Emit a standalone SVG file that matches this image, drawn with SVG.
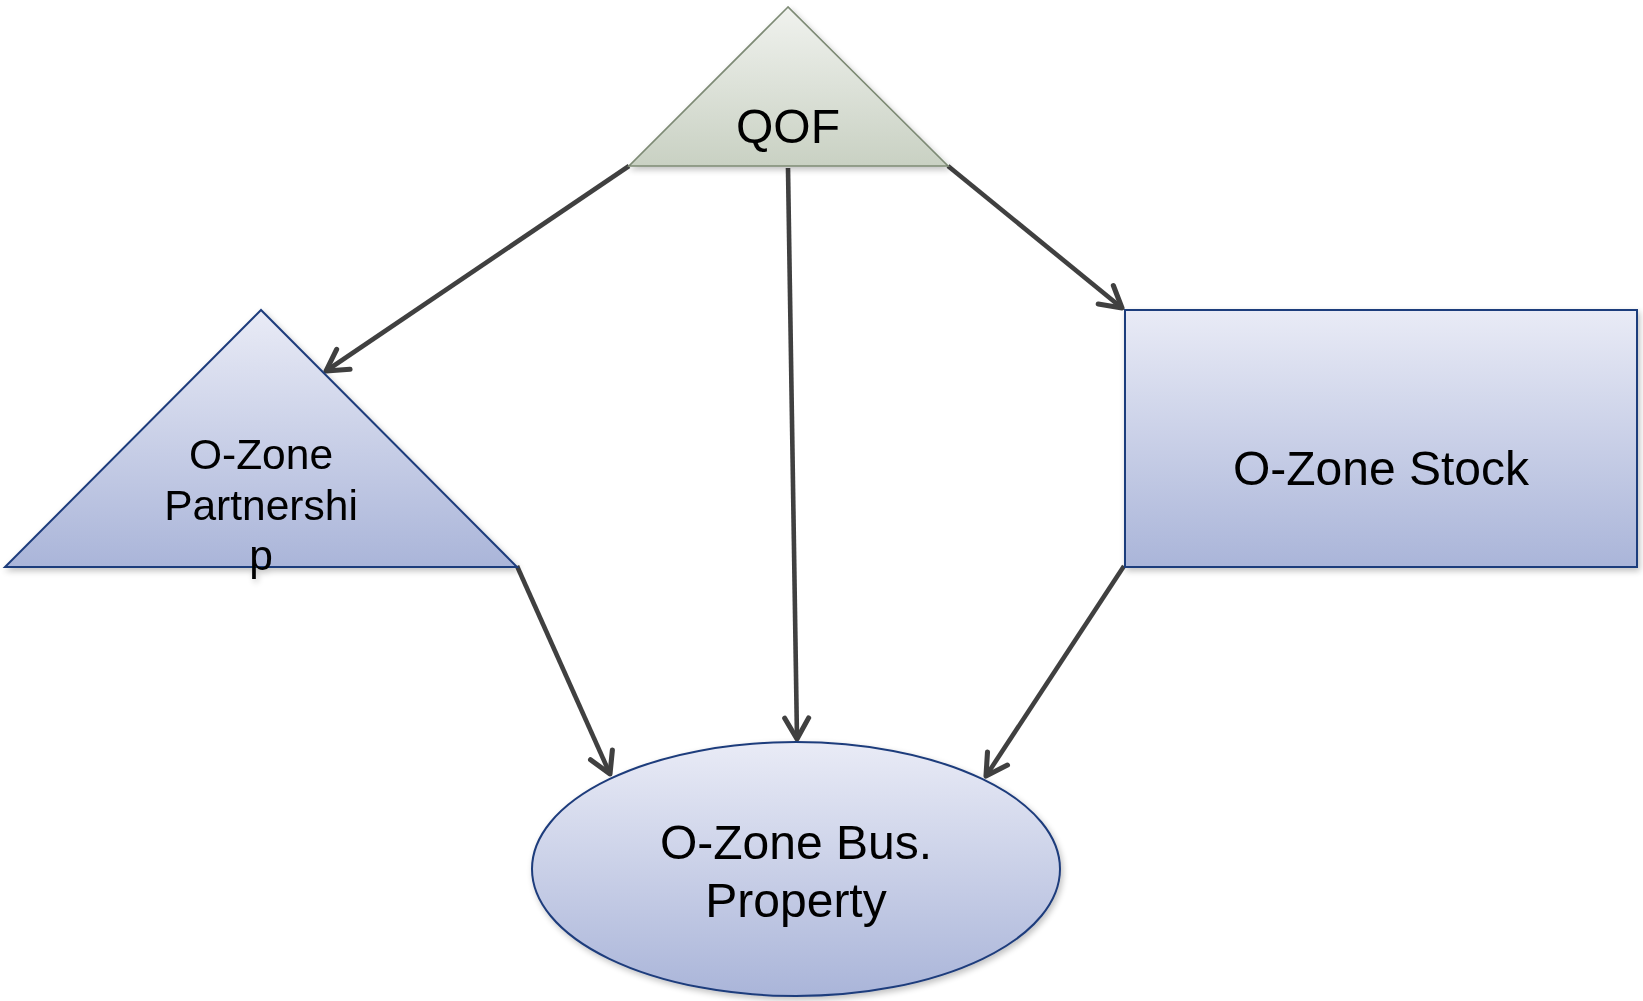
<svg xmlns="http://www.w3.org/2000/svg" width="1643" height="1001" viewBox="0 0 1643 1001">
  <defs>
    <linearGradient id="gradGreen" x1="0" y1="0" x2="0" y2="1">
      <stop offset="0" stop-color="#f0f2ee"/>
      <stop offset="1" stop-color="#c9d1c3"/>
    </linearGradient>
    <linearGradient id="gradBlue" x1="0" y1="0" x2="0" y2="1">
      <stop offset="0" stop-color="#e9ebf6"/>
      <stop offset="1" stop-color="#aab5d9"/>
    </linearGradient>
    <filter id="shadow" x="-5%" y="-5%" width="115%" height="120%">
      <feGaussianBlur in="SourceAlpha" stdDeviation="3"/>
      <feOffset dx="2" dy="3"/>
      <feComponentTransfer><feFuncA type="linear" slope="0.25"/></feComponentTransfer>
      <feMerge><feMergeNode/><feMergeNode in="SourceGraphic"/></feMerge>
    </filter>
    <marker id="arrow" viewBox="0 0 20 20" refX="18" refY="10" markerWidth="6.5" markerHeight="6.5" markerUnits="strokeWidth" orient="auto">
      <path d="M4,2 L18,10 L4,18" fill="none" stroke="#404040" stroke-width="3.4" stroke-linecap="round" stroke-linejoin="round"/>
    </marker>
    <style>
      .label { font-family: "Liberation Sans", Arial, sans-serif; fill: #000; text-anchor: middle; }
      .blue { fill: url(#gradBlue); stroke: #1f3c7c; stroke-width: 2; }
      .conn { fill: none; stroke: #404040; stroke-width: 4.6; marker-end: url(#arrow); }
    </style>
  </defs>

  <rect width="1643" height="1001" fill="#ffffff"/>

  <g id="connectors">
    <line class="conn" x1="629" y1="166" x2="326" y2="371"/>
    <line class="conn" x1="788" y1="168" x2="797" y2="739"/>
    <line class="conn" x1="948" y1="166" x2="1122" y2="308"/>
    <line class="conn" x1="517" y1="566" x2="610" y2="774"/>
    <line class="conn" x1="1124" y1="566" x2="986" y2="776"/>
  </g>

  <g id="node-qof" filter="url(#shadow)">
    <polygon points="788,7 629,166 948,166" fill="url(#gradGreen)" stroke="#7d8a74" stroke-width="1.6"/>
    <text class="label" x="788" y="143" font-size="48">QOF</text>
  </g>

  <g id="node-partnership" filter="url(#shadow)">
    <polygon class="blue" points="261,310 5,567 517,567"/>
    <text class="label" font-size="42.5"><tspan x="261" y="469">O-Zone</tspan><tspan x="261" y="520">Partnershi</tspan><tspan x="261" y="570">p</tspan></text>
  </g>

  <g id="node-stock" filter="url(#shadow)">
    <rect class="blue" x="1125" y="310" width="512" height="257"/>
    <text class="label" x="1381" y="485" font-size="48">O-Zone Stock</text>
  </g>

  <g id="node-property" filter="url(#shadow)">
    <ellipse class="blue" cx="796" cy="869" rx="264" ry="127"/>
    <text class="label" font-size="48"><tspan x="796" y="859">O-Zone Bus.</tspan><tspan x="796" y="917">Property</tspan></text>
  </g>
</svg>
